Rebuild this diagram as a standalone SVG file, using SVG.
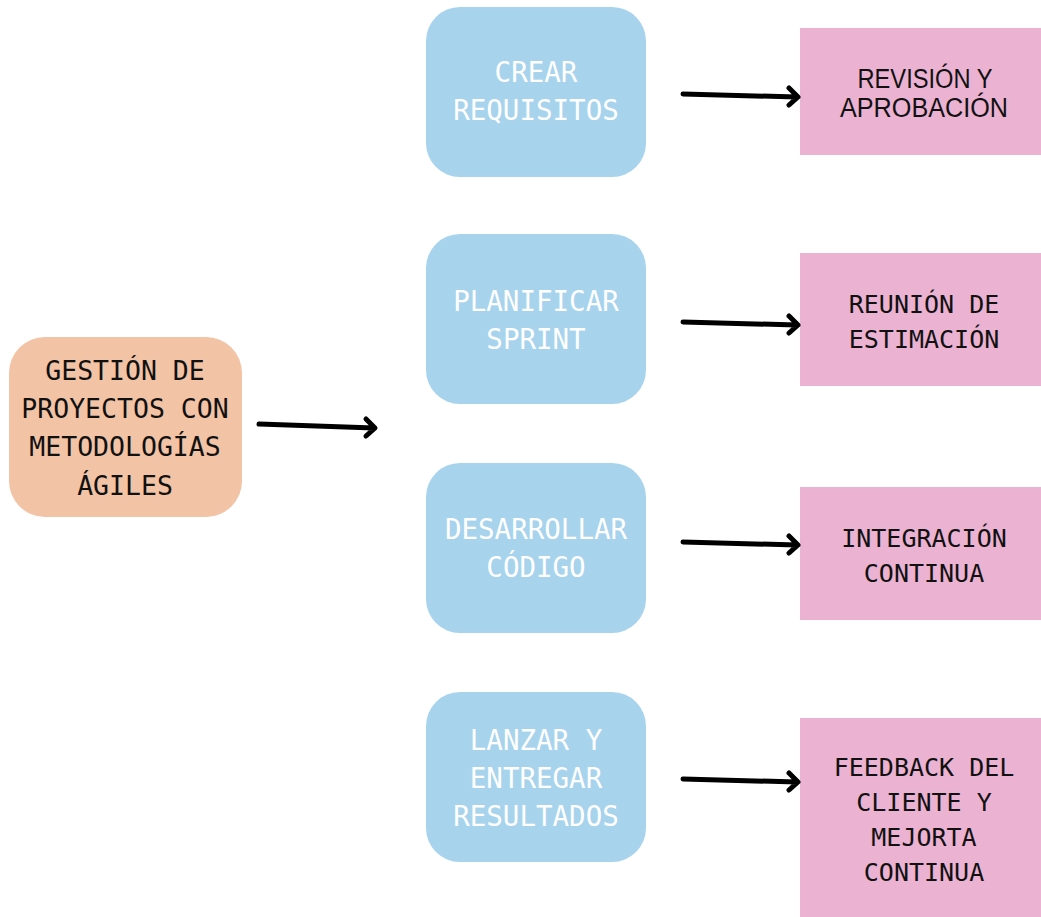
<svg xmlns="http://www.w3.org/2000/svg" width="1041" height="917" viewBox="0 0 1041 917">
<style>
.mono{font-family:"DejaVu Sans Mono","Liberation Mono",monospace;text-anchor:middle}
.dark{fill:#111111;font-size:26.5px}
.light{fill:#ffffff;font-size:27.5px}
.pk{fill:#111111;font-size:25px}
.sans{font-family:"Liberation Sans","DejaVu Sans",sans-serif;fill:#111111;font-size:27px;text-anchor:middle}
.arrow{fill:none;stroke:#000;stroke-width:5;stroke-linecap:round;stroke-linejoin:round}
</style>
<rect width="1041" height="917" fill="#ffffff"/>
<g id="main">
<rect x="9" y="337" width="233" height="180" rx="36" fill="#F3C3A6"/>
<text class="mono dark" x="125" y="380">GESTIÓN DE</text>
<text class="mono dark" x="125" y="418">PROYECTOS CON</text>
<text class="mono dark" x="125" y="456">METODOLOGÍAS</text>
<text class="mono dark" x="125" y="495">ÁGILES</text>
</g>
<g id="crear">
<rect x="426" y="7" width="220" height="170" rx="34" fill="#A7D3ED"/>
<text class="mono light" x="536" y="82">CREAR</text>
<text class="mono light" x="536" y="120">REQUISITOS</text>
</g>
<g id="planificar">
<rect x="426" y="234" width="220" height="170" rx="34" fill="#A7D3ED"/>
<text class="mono light" x="536" y="311">PLANIFICAR</text>
<text class="mono light" x="536" y="349">SPRINT</text>
</g>
<g id="desarrollar">
<rect x="426" y="463" width="220" height="170" rx="34" fill="#A7D3ED"/>
<text class="mono light" x="536" y="539">DESARROLLAR</text>
<text class="mono light" x="536" y="577">CÓDIGO</text>
</g>
<g id="lanzar">
<rect x="426" y="692" width="220" height="170" rx="34" fill="#A7D3ED"/>
<text class="mono light" x="536" y="750">LANZAR Y</text>
<text class="mono light" x="536" y="788">ENTREGAR</text>
<text class="mono light" x="536" y="826">RESULTADOS</text>
</g>
<g id="revision">
<rect x="800" y="28" width="241" height="127" fill="#EBB2D2"/>
<text class="sans" x="925" y="88" textLength="135" lengthAdjust="spacingAndGlyphs">REVISIÓN Y</text>
<text class="sans" x="924" y="117" textLength="168" lengthAdjust="spacingAndGlyphs">APROBACIÓN</text>
</g>
<g id="reunion">
<rect x="800" y="253" width="241" height="133" fill="#EBB2D2"/>
<text class="mono pk" x="924" y="313">REUNIÓN DE</text>
<text class="mono pk" x="924" y="348">ESTIMACIÓN</text>
</g>
<g id="integracion">
<rect x="800" y="487" width="241" height="133" fill="#EBB2D2"/>
<text class="mono pk" x="924" y="547">INTEGRACIÓN</text>
<text class="mono pk" x="924" y="582">CONTINUA</text>
</g>
<g id="feedback">
<rect x="800" y="718" width="241" height="199" fill="#EBB2D2"/>
<text class="mono pk" x="924" y="776">FEEDBACK DEL</text>
<text class="mono pk" x="924" y="811">CLIENTE Y</text>
<text class="mono pk" x="924" y="846">MEJORTA</text>
<text class="mono pk" x="924" y="881">CONTINUA</text>
</g>
<g id="connectors">
<path class="arrow" d="M259,424 L374,428 M366,419 L375,428 L366,436"/>
<path class="arrow" d="M683,94 L797,97 M789,88 L798,97 L789,105"/>
<path class="arrow" d="M683,322 L797,325 M789,316 L798,325 L789,333"/>
<path class="arrow" d="M683,542 L797,545 M789,536 L798,545 L789,553"/>
<path class="arrow" d="M683,779 L797,782 M789,773 L798,782 L789,790"/>
</g>
</svg>
